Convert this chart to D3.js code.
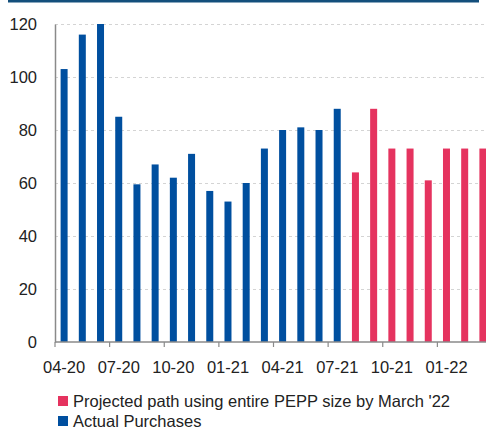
<!DOCTYPE html>
<html>
<head>
<meta charset="utf-8">
<script src="https://cdn.jsdelivr.net/npm/d3@7"></script>
<style>
  html, body { margin: 0; padding: 0; background: #fff; }
  svg { display: block; font-family: "Liberation Sans", Arial, sans-serif; }
</style>
</head>
<body>
<svg id="chart" width="486" height="429"></svg>
<script>
// Monthly PEPP purchases (EUR bn), Apr 2020 – Mar 2022
const months = [
  "04-20","05-20","06-20","07-20","08-20","09-20","10-20","11-20","12-20",
  "01-21","02-21","03-21","04-21","05-21","06-21","07-21","08-21","09-21",
  "10-21","11-21","12-21","01-22","02-22","03-22"
];
const actual = [103,116,120,85,59.5,67,62,71,57,53,60,73,80,81,80,88,null,null,null,null,null,null,null,null];
const projected = [null,null,null,null,null,null,null,null,null,null,null,null,null,null,null,null,64,88,73,73,61,73,73,73];
const yTicks = [0,20,40,60,80,100,120];
const xTickLabels = ["04-20","07-20","10-20","01-21","04-21","07-21","10-21","01-22"];
const seriesNames = ["Projected path using entire PEPP size by March '22", "Actual Purchases"];
const colors = { actual: "#004f9f", projected: "#e5335f" };

const svg = d3.select("#chart");
const plot = { left: 55, right: 492, top: 24, bottom: 342 };

const x = d3.scaleBand().domain(months).range([plot.left, plot.right]);
const y = d3.scaleLinear().domain([0, 120]).range([plot.bottom, plot.top]);
const barW = 7;

// header rule
svg.append("rect").attr("x", 8).attr("y", 0).attr("width", 471).attr("height", 2.5).attr("fill", "#134f7c");

// dashed gridlines
svg.append("g").selectAll("line").data(yTicks.filter(d => d > 0)).join("line")
  .attr("x1", plot.left).attr("x2", 486)
  .attr("y1", d => Math.round(y(d)) + 0.5).attr("y2", d => Math.round(y(d)) + 0.5)
  .attr("stroke", "#d4d4d4").attr("stroke-width", 1.2).attr("stroke-dasharray", "3,3");

// bars
function drawBars(values, color) {
  svg.append("g").selectAll("rect")
    .data(months.map((m, i) => ({ m, v: values[i] })).filter(d => d.v != null))
    .join("rect")
    .attr("x", d => x(d.m) + x.bandwidth() / 2 - barW / 2)
    .attr("width", barW)
    .attr("y", d => y(d.v))
    .attr("height", d => y(0) - y(d.v))
    .attr("fill", color);
}
drawBars(actual, colors.actual);
drawBars(projected, colors.projected);

// y axis
const yAxis = svg.append("g").attr("transform", `translate(${plot.left},0)`)
  .call(d3.axisLeft(y).tickValues(yTicks).tickSize(0).tickPadding(18));
yAxis.select(".domain").attr("stroke", "#8a8a8a").attr("stroke-width", 1.5);
yAxis.selectAll("text").attr("font-size", 16.5).attr("fill", "#222")
  .attr("font-family", "Liberation Sans, Arial, sans-serif").attr("dy", "0.35em");

// x axis: ticks at quarter boundaries, labels under first month of each quarter
const quarterStarts = months.filter((m, i) => i % 3 === 0);
const xAxisG = svg.append("g").attr("transform", `translate(0,${plot.bottom})`);
xAxisG.append("line").attr("x1", plot.left).attr("x2", 486).attr("y1", 0).attr("y2", 0)
  .attr("stroke", "#8a8a8a").attr("stroke-width", 1.5);
xAxisG.selectAll("line.tick").data(quarterStarts).join("line").attr("class", "tick")
  .attr("x1", d => x(d)).attr("x2", d => x(d)).attr("y1", 0).attr("y2", 5)
  .attr("stroke", "#8a8a8a").attr("stroke-width", 1.2);
xAxisG.selectAll("text").data(quarterStarts).join("text")
  .attr("x", d => x(d) + x.bandwidth() / 2).attr("y", 31)
  .attr("text-anchor", "middle").attr("font-size", 16.5).attr("fill", "#222")
  .text((d, i) => xTickLabels[i]);

// legend
const legend = svg.append("g");
const legendItems = [
  { name: seriesNames[0], color: colors.projected, y: 401 },
  { name: seriesNames[1], color: colors.actual, y: 421 }
];
legend.selectAll("rect").data(legendItems).join("rect")
  .attr("x", 58).attr("y", d => d.y - 5).attr("width", 10).attr("height", 10).attr("fill", d => d.color);
legend.selectAll("text").data(legendItems).join("text")
  .attr("x", 73).attr("y", d => d.y + 5.5).attr("font-size", 16.5).attr("fill", "#222")
  .text(d => d.name);
</script>
</body>
</html>
